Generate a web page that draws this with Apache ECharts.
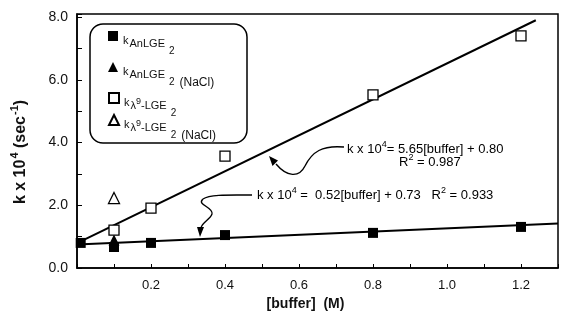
<!DOCTYPE html>
<html><head><meta charset="utf-8">
<script src="https://cdn.jsdelivr.net/npm/echarts@6/dist/echarts.min.js"></script>
<style>html,body{margin:0;padding:0;background:#fff}#c{width:561px;height:323px}</style>
</head><body><div id="c"></div>
<script>
const FONT = '"Liberation Sans", Arial, sans-serif';
const INK = '#111';

// ---- data ----
const seriesNames = ['kAnLGE2', 'kAnLGE2 (NaCl)', 'kλ9-LGE2', 'kλ9-LGE2 (NaCl)'];
const anlgeBuffer = [0.01, 0.1, 0.2, 0.4, 0.8, 1.2];
const anlgeK = [0.80, 0.67, 0.80, 1.05, 1.12, 1.31];
const anlgeNaClBuffer = [0.1];
const anlgeNaClK = [0.89];
const lambdaBuffer = [0.1, 0.2, 0.4, 0.8, 1.2];
const lambdaK = [1.21, 1.91, 3.57, 5.52, 7.40];
const lambdaNaClBuffer = [0.1];
const lambdaNaClK = [2.23];
// fitted lines (k x 10^4 = 5.65[buffer] + 0.80 ; k x 10^4 = 0.52[buffer] + 0.73)
const fitLambdaX = [0.01, 1.24];
const fitLambdaY = [0.85, 7.90];
const fitAnlgeX = [0, 1.3];
const fitAnlgeY = [0.75, 1.42];
// tick labels
const xTickLabels = ['0.2', '0.4', '0.6', '0.8', '1.0', '1.2'];
const yTickLabels = ['0.0', '2.0', '4.0', '6.0', '8.0'];

const pairs = (xs, ys) => xs.map((x, i) => [x, ys[i]]);

const legendRich = {
  k:  { fontFamily: FONT, fontSize: 11, color: INK, lineHeight: 12, verticalAlign: 'top', padding: [0, 1, 0, 0] },
  s:  { fontFamily: FONT, fontSize: 11, color: INK, lineHeight: 12, verticalAlign: 'top', padding: [3, 0, 0, 0] },
  sp: { fontFamily: FONT, fontSize: 9, color: INK, lineHeight: 10, verticalAlign: 'top', padding: [0, 0, 0, 0] },
  ss: { fontFamily: FONT, fontSize: 10, color: INK, lineHeight: 11, verticalAlign: 'top', padding: [11, 0, 0, 4] },
  n:  { fontFamily: FONT, fontSize: 12, color: INK, lineHeight: 12, verticalAlign: 'top', padding: [11, 0, 0, 5] }
};
const legendLabel = {
  'kAnLGE2': '{k|k}{s|AnLGE}{ss|2}',
  'kAnLGE2 (NaCl)': '{k|k}{s|AnLGE}{ss|2}{n|(NaCl)}',
  'kλ9-LGE2': '{k|k}{s|λ}{sp|9}{s|-LGE}{ss|2}',
  'kλ9-LGE2 (NaCl)': '{k|k}{s|λ}{sp|9}{s|-LGE}{ss|2}{n|(NaCl)}'
};
const legendTops = [31, 62, 92, 114];
const legends = seriesNames.map((nm, i) => ({
  data: [nm],
  left: 108,
  top: legendTops[i],
  padding: 0,
  itemWidth: 10,
  itemHeight: 10,
  selectedMode: false,
  formatter: n => legendLabel[n],
  textStyle: { padding: [10, 0, 0, 0], rich: legendRich }
}));

const supRich = {
  t: { fontFamily: FONT, fontSize: 13, color: INK, lineHeight: 13, verticalAlign: 'top', padding: [3, 0, 0, 0] },
  u: { fontFamily: FONT, fontSize: 9, color: INK, lineHeight: 9, verticalAlign: 'top', padding: [0, 0, 0, 0] }
};

const bez = (p) => ({ type: 'bezierCurve', shape: { x1: p[0], y1: p[1], cpx1: p[2], cpy1: p[3], cpx2: p[4], cpy2: p[5], x2: p[6], y2: p[7] }, style: { fill: 'none', stroke: '#000', lineWidth: 1.4 }, z: 10, silent: true });

const chart = echarts.init(document.getElementById('c'), null, { renderer: 'canvas' });
chart.setOption({
  animation: false,
  backgroundColor: '#fff',
  textStyle: { fontFamily: FONT },
  grid: { left: 77, right: 1, top: 14, bottom: 55, show: true, borderColor: '#000', borderWidth: 1.5 },
  legend: legends,
  xAxis: {
    type: 'value', min: 0, max: 1.3, interval: 0.1,
    name: '[buffer]  (M)', nameLocation: 'middle', nameGap: 28,
    nameTextStyle: { fontFamily: FONT, fontSize: 14, fontWeight: 'bold', color: INK, padding: [0, 24, 0, 0] },
    axisLine: { lineStyle: { color: '#000', width: 1.5 } },
    axisTick: { inside: true, length: 4, lineStyle: { color: '#000' } },
    axisLabel: {
      margin: 11, fontSize: 13, color: INK, fontFamily: FONT,
      formatter: v => { const i = Math.round(v * 5) - 1; return (Math.abs(v * 5 - Math.round(v * 5)) < 1e-6 && i >= 0 && i < xTickLabels.length) ? xTickLabels[i] : ''; }
    },
    splitLine: { show: false }
  },
  yAxis: {
    type: 'value', min: 0, max: 8.1, interval: 1,
    name: '{b|k x 10}{u|4}{b| (sec}{u|-1}{b|)}', nameLocation: 'middle', nameGap: 52,
    nameTextStyle: { padding: [0, 22, 0, 0], rich: {
      b: { fontFamily: FONT, fontSize: 16, fontWeight: 'bold', color: INK, lineHeight: 16, verticalAlign: 'top', padding: [4, 0, 0, 0] },
      u: { fontFamily: FONT, fontSize: 11, fontWeight: 'bold', color: INK, lineHeight: 11, verticalAlign: 'top', padding: [0, 0, 0, 1] }
    } },
    axisLine: { lineStyle: { color: '#000', width: 1.5 } },
    axisTick: { inside: true, length: 5, lineStyle: { color: '#000' } },
    axisLabel: {
      margin: 9, fontSize: 14, color: INK, fontFamily: FONT,
      formatter: v => { const r = Math.round(v); return (Math.abs(v - r) < 1e-6 && r % 2 === 0) ? yTickLabels[r / 2] : ''; }
    },
    splitLine: { show: false }
  },
  series: [
    { type: 'line', data: pairs(fitLambdaX, fitLambdaY), showSymbol: false, symbol: 'none', lineStyle: { color: '#000', width: 2 }, z: 1, silent: true },
    { type: 'line', data: pairs(fitAnlgeX, fitAnlgeY), showSymbol: false, symbol: 'none', lineStyle: { color: '#000', width: 2 }, z: 1, silent: true },
    { name: seriesNames[0], type: 'scatter', data: pairs(anlgeBuffer, anlgeK), symbol: 'rect', symbolSize: 10, itemStyle: { color: '#000', opacity: 1 }, z: 3 },
    { name: seriesNames[1], type: 'scatter', data: pairs(anlgeNaClBuffer, anlgeNaClK), symbol: 'triangle', symbolSize: 11, itemStyle: { color: '#000', opacity: 1 }, z: 4 },
    { name: seriesNames[2], type: 'scatter', data: pairs(lambdaBuffer, lambdaK), symbol: 'rect', symbolSize: 10, itemStyle: { color: '#fff', borderColor: '#000', borderWidth: 1.3, opacity: 1 }, z: 5 },
    { name: seriesNames[3], type: 'scatter', data: pairs(lambdaNaClBuffer, lambdaNaClK), symbol: 'triangle', symbolSize: 11, itemStyle: { color: '#fff', borderColor: '#000', borderWidth: 1.3, opacity: 1 }, z: 5 }
  ],
  graphic: [
    { type: 'rect', shape: { x: 90, y: 24, width: 157, height: 119, r: 13 }, style: { fill: 'none', stroke: '#000', lineWidth: 1.5 }, z: 10, silent: true },
    { type: 'text', x: 347, y: 140, style: { text: '{t|k x 10}{u|4}{t|= 5.65[buffer] + 0.80}', rich: supRich }, z: 10 },
    { type: 'text', x: 399, y: 153, style: { text: '{t|R}{u|2}{t| = 0.987}', rich: supRich }, z: 10 },
    { type: 'text', x: 257, y: 186, style: { text: '{t|k x 10}{u|4}{t| =  0.52[buffer] + 0.73   R}{u|2}{t| = 0.933}', rich: supRich }, z: 10 },
    bez([344, 147, 322, 145, 312, 152, 305, 166]),
    bez([305, 166, 299, 178, 287, 177, 276, 164]),
    { type: 'polygon', shape: { points: [[269, 156], [278, 160.5], [272.5, 166]] }, style: { fill: '#000' }, z: 10, silent: true },
    bez([252, 195, 232, 195, 210, 194, 203, 199]),
    bez([203, 199, 196, 205, 214, 207, 212, 214]),
    bez([212, 214, 210, 220, 202, 222, 201, 228]),
    { type: 'polygon', shape: { points: [[200, 237], [197, 227], [204, 227]] }, style: { fill: '#000' }, z: 10, silent: true }
  ]
});
</script>
</body></html>
